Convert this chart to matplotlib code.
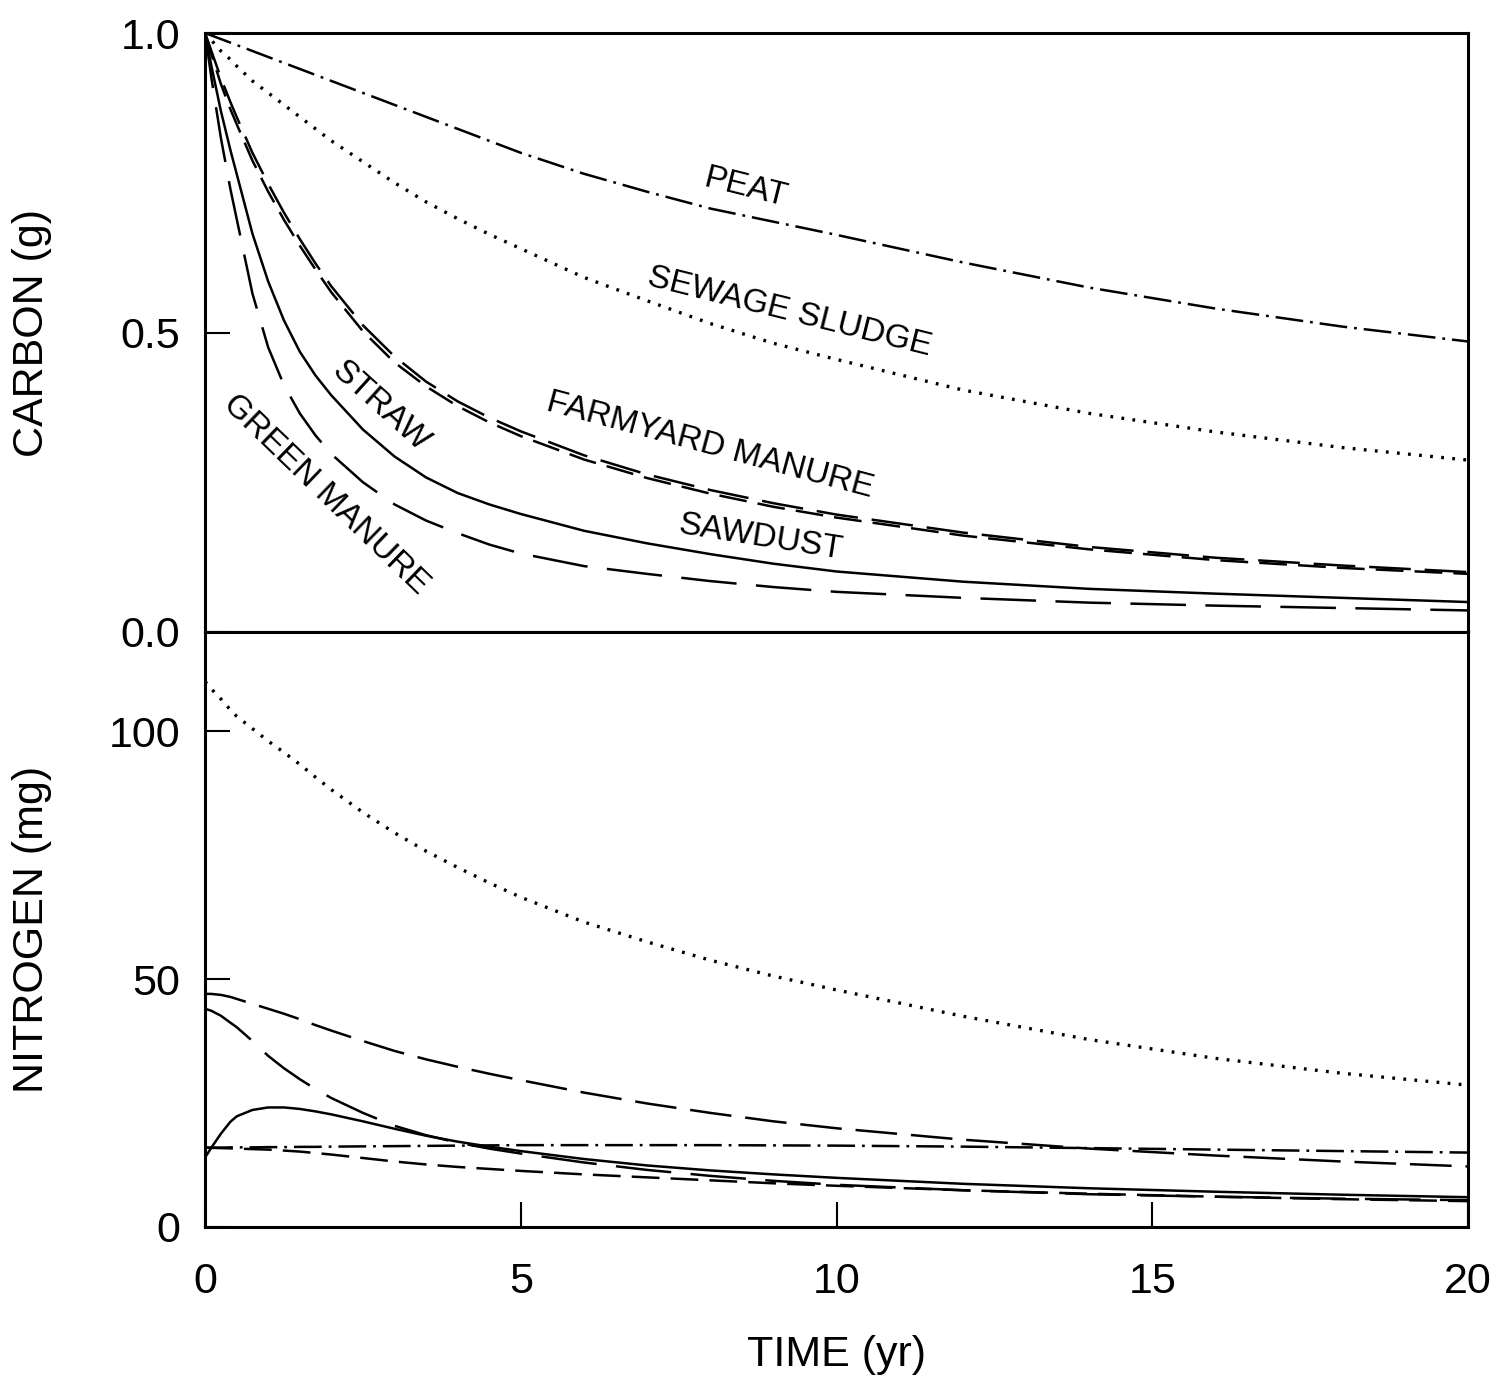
import matplotlib.pyplot as plt

plt.rcParams['font.family'] = ['Liberation Sans', 'DejaVu Sans']
plt.rcParams['lines.scale_dashes'] = False

# time axis (yr)
years = [0, 0.1, 0.25, 0.4, 0.5, 0.75, 1, 1.25, 1.5, 1.75, 2, 2.5, 3, 3.5, 4, 4.5, 5,
         6, 7, 8, 9, 10, 12, 14, 16, 18, 20]

# carbon remaining (g)
c_peat = [1.0, 0.996, 0.99, 0.984, 0.98, 0.97, 0.96, 0.95, 0.94, 0.93, 0.92, 0.90, 0.88,
          0.86, 0.84, 0.82, 0.80, 0.765, 0.735, 0.707, 0.685, 0.663, 0.617, 0.575, 0.54,
          0.51, 0.485]
c_sewage = [1.0, 0.988, 0.97, 0.956, 0.945, 0.92, 0.90, 0.88, 0.86, 0.84, 0.82, 0.785, 0.75,
            0.718, 0.69, 0.664, 0.64, 0.592, 0.553, 0.515, 0.482, 0.455, 0.404, 0.365,
            0.334, 0.308, 0.287]
c_fym = [1.0, 0.97, 0.925, 0.885, 0.86, 0.80, 0.748, 0.70, 0.656, 0.615, 0.577, 0.512, 0.46,
         0.418, 0.385, 0.358, 0.335, 0.295, 0.263, 0.237, 0.215, 0.196, 0.166, 0.142,
         0.124, 0.111, 0.10]
c_sawdust = [1.0, 0.965, 0.915, 0.873, 0.848, 0.787, 0.735, 0.688, 0.645, 0.605, 0.567,
             0.502, 0.45, 0.41, 0.377, 0.35, 0.327, 0.288, 0.257, 0.231, 0.209, 0.191,
             0.161, 0.138, 0.12, 0.107, 0.097]
c_straw = [1.0, 0.945, 0.87, 0.805, 0.765, 0.665, 0.585, 0.52, 0.468, 0.428, 0.395, 0.338,
           0.293, 0.258, 0.232, 0.213, 0.197, 0.169, 0.148, 0.13, 0.114, 0.101, 0.084,
           0.072, 0.064, 0.057, 0.05]
c_green = [1.0, 0.925, 0.825, 0.74, 0.69, 0.565, 0.475, 0.412, 0.365, 0.328, 0.297, 0.25,
           0.213, 0.186, 0.165, 0.146, 0.131, 0.11, 0.097, 0.085, 0.075, 0.067, 0.057,
           0.049, 0.044, 0.04, 0.036]

# nitrogen remaining (mg)
n_peat = [16.0, 16.0, 16.0, 16.05, 16.05, 16.05, 16.1, 16.1, 16.15, 16.15, 16.2, 16.25,
          16.3, 16.35, 16.4, 16.45, 16.5, 16.5, 16.5, 16.5, 16.45, 16.4, 16.2, 15.9, 15.6,
          15.3, 15.0]
n_sewage = [110, 108.5, 106.5, 104.3, 103, 100.5, 98, 95.7, 93.3, 90.7, 88.2, 83.6, 79.5,
            75.8, 72.5, 69.4, 66.5, 61.5, 57.5, 53.8, 50.6, 47.8, 42.5, 37.8, 34, 31, 28.6]
n_fym = [47, 47, 46.8, 46.4, 46, 45, 44, 43, 41.9, 40.7, 39.6, 37.5, 35.5, 33.8, 32.3, 30.9,
         29.6, 27.1, 24.9, 23, 21.3, 19.9, 17.6, 15.8, 14.4, 13.2, 12.2]
n_sawdust = [16, 15.95, 15.9, 15.85, 15.8, 15.7, 15.6, 15.4, 15.2, 14.9, 14.6, 13.9, 13.2,
             12.6, 12.1, 11.7, 11.3, 10.6, 10.0, 9.4, 8.8, 8.3, 7.4, 6.7, 6.1, 5.6, 5.2]
n_straw = [14, 16, 18.8, 21.2, 22.3, 23.6, 24.1, 24.1, 23.8, 23.3, 22.7, 21.3, 19.8, 18.4,
           17.2, 16.2, 15.3, 13.7, 12.4, 11.4, 10.6, 9.9, 8.7, 7.8, 7.1, 6.5, 6.0]
n_green = [44, 43.6, 42.6, 41.2, 40.3, 37.5, 34.5, 32, 29.8, 27.8, 26, 23, 20.4, 18.5, 17.0,
           15.8, 14.8, 13, 11.5, 10.3, 9.3, 8.5, 7.4, 6.6, 6.1, 5.7, 5.4]

names = ["PEAT", "SEWAGE SLUDGE", "FARMYARD MANURE", "SAWDUST", "STRAW", "GREEN MANURE"]
carbon = [c_peat, c_sewage, c_fym, c_sawdust, c_straw, c_green]
nitrogen = [n_peat, n_sewage, n_fym, n_sawdust, n_straw, n_green]
styles = [(0, (20, 5, 2, 5)), (0, (2, 6)), (0, (30, 10)), (0, (20, 8)), '-', (0, (40, 14))]
widths = [1.8, 2.4, 1.8, 1.8, 1.8, 1.8]

# label placement (x, y, angle) on the carbon panel
label_pos = [(8.55, 0.741, -14), (9.26, 0.534, -14), (8.0, 0.312, -15),
             (8.79, 0.157, -9), (2.77, 0.376, -42), (1.92, 0.23, -44)]

fig = plt.figure(figsize=(14.98, 13.82), dpi=100)
ax1 = fig.add_axes([0.1369, 0.5427, 0.8431, 0.4334])
ax2 = fig.add_axes([0.1369, 0.1122, 0.8431, 0.4305])

for c, n, ls, w in zip(carbon, nitrogen, styles, widths):
    ax1.plot(years, c, color='black', lw=w, linestyle=ls)
    ax2.plot(years, n, color='black', lw=w, linestyle=ls)

for name, (x, y, rot) in zip(names, label_pos):
    ax1.text(x, y, name, rotation=rot, ha='center', va='center',
             rotation_mode='anchor', fontsize=24)

ax1.set_xlim(0, 20)
ax1.set_ylim(0, 1.0)
ax1.set_yticks([0, 0.5, 1.0])
ax1.set_yticklabels(['0.0', '0.5', '1.0'])
ax1.tick_params(axis='x', length=0, labelbottom=False)
ax1.tick_params(axis='y', direction='in', length=18, width=1.5, pad=18, labelsize=31)
ax1.set_ylabel('CARBON (g)', fontsize=31, va='center')
ax1.yaxis.set_label_coords(-0.137, 0.5)

ax2.set_xlim(0, 20)
ax2.set_ylim(0, 120)
ax2.set_yticks([0, 50, 100])
ax2.set_xticks([0, 5, 10, 15, 20])
ax2.tick_params(axis='both', direction='in', length=18, width=1.5, labelsize=31)
ax2.tick_params(axis='y', pad=18)
ax2.tick_params(axis='x', pad=25)
ax2.set_ylabel('NITROGEN (mg)', fontsize=31, va='center')
ax2.yaxis.set_label_coords(-0.137, 0.5)
ax2.set_xlabel('TIME (yr)', fontsize=31, va='center')
ax2.xaxis.set_label_coords(0.5, -0.215)

for ax in (ax1, ax2):
    for sp in ax.spines.values():
        sp.set_linewidth(2.2)

fig.savefig('out.png', dpi=100)
